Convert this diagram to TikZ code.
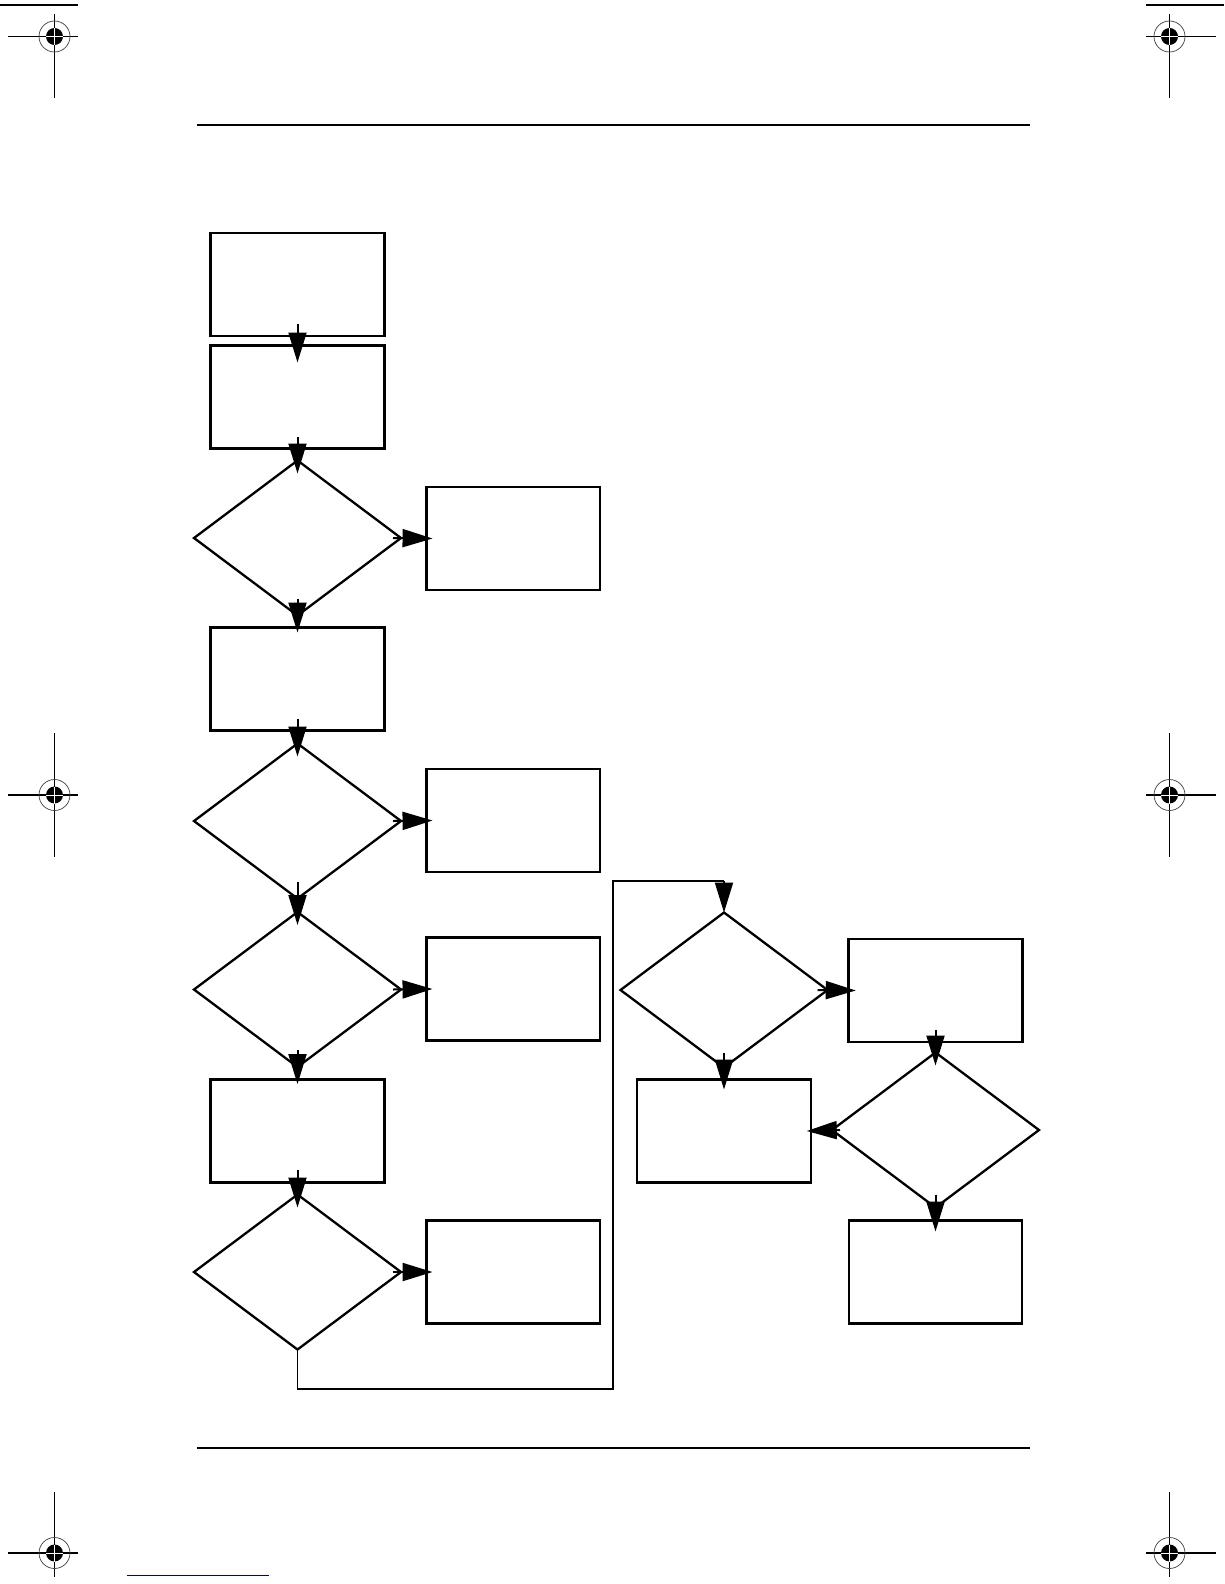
\documentclass[tikz,border=0pt]{standalone}
\usetikzlibrary{shapes.geometric,arrows.meta}
\begin{document}
\begin{tikzpicture}[x=1pt,y=-1pt,
  box/.style={draw,line width=2.8pt,minimum width=173.5pt,minimum height=103pt,inner sep=0pt,outer sep=0pt},
  thinbox/.style={box,line width=2.2pt},
  dia/.style={draw,shape=diamond,line width=2.3pt,minimum width=207pt,minimum height=155pt,inner sep=0pt,outer sep=0pt},
  arr/.style={line width=2pt,-{Triangle[length=30pt,width=18pt]}},
  link/.style={line width=1.8pt},
  rulel/.style={line width=1.3pt},
  markl/.style={line width=1.2pt},
  ]
\useasboundingbox (0,0) rectangle (1224,1584);
% registration marks
\foreach \cx/\hl/\hr in {54.5/8/78,1169.5/1146/1216}{
  \foreach \cy/\vt/\vb in {36.5/14/98,795/733/857,1553/1492/1577}{
    \draw[markl] (\hl,\cy) -- (\hr,\cy) (\cx,\vt) -- (\cx,\vb);
    \draw[line width=0.7pt,black!75] (\cx,\cy) circle (15.5pt);
    \fill (\cx,\cy) circle (8.5pt);
    \draw[white,line width=0.9pt] (\cx-8.5,\cy) -- (\cx+8.5,\cy) (\cx,\cy-8.5) -- (\cx,\cy+8.5);
  }
}
\draw[markl] (0,5) -- (78,5) (1146,5) -- (1224,5);
% header and footer rules
\draw[rulel] (197,125) -- (1030,125);
\draw[rulel] (197,1448) -- (1030,1448);
\draw[line width=1pt,blue!60!black] (127,1575) -- (269,1575);

% left column
\node[box] (b1) at (297.5,284.5) {};
\node[box] (b2) at (297.5,397) {};
\node[dia] (d1) at (297.5,538) {};
\node[box] (r1) at (513.3,538.5) {};
\node[box] (b3) at (297.5,679) {};
\node[dia] (d2) at (297.5,821) {};
\node[box] (r2) at (513.3,820.5) {};
\node[dia] (d3) at (297.5,989.5) {};
\node[box] (r3) at (513.3,989) {};
\node[box] (b4) at (297.5,1130.6) {};
\node[dia] (d4) at (297.5,1272) {};
\node[box] (r4) at (513.3,1272) {};
% right part
\node[dia] (d5) at (724,990) {};
\node[box] (r5) at (935.5,990.5) {};
\node[thinbox] (l5) at (724,1131) {};
\node[dia] (d6) at (935.5,1130) {};
\node[thinbox] (r6) at (935.5,1272) {};

% connectors
\draw[arr] ([yshift=12pt]b1.south) -- ([yshift=-17pt]b2.north);
\draw[arr] ([yshift=12pt]b2.south) -- ([yshift=-13pt]d1.north);
\draw[arr] ([xshift=-8pt]d1.east) -- ([xshift=6pt]r1.west);
\draw[arr] ([yshift=17pt]d1.south) -- ([yshift=-5pt]b3.north);
\draw[arr] ([yshift=12pt]b3.south) -- ([yshift=-13pt]d2.north);
\draw[arr] ([xshift=-8pt]d2.east) -- ([xshift=6pt]r2.west);
\draw[arr] ([yshift=17pt]d2.south) -- ([yshift=-13pt]d3.north);
\draw[arr] ([xshift=-8pt]d3.east) -- ([xshift=6pt]r3.west);
\draw[arr] ([yshift=17pt]d3.south) -- ([yshift=-5pt]b4.north);
\draw[arr] ([yshift=12pt]b4.south) -- ([yshift=-13pt]d4.north);
\draw[arr] ([xshift=-8pt]d4.east) -- ([xshift=6pt]r4.west);
\coordinate (c1) at (613,1389);
\coordinate (c2) at (613,880.7);
\draw[link] (d4.south) -- (d4.south |- c1) -- (c1) -- (c2) -- (c2 -| d5.north);
\draw[arr] (c2 -| d5.north) -- (d5.north);
\draw[arr] ([xshift=-10pt]d5.east) -- ([xshift=7pt]r5.west);
\draw[arr] ([yshift=15pt]d5.south) -- ([yshift=-10pt]l5.north);
\draw[arr] ([yshift=12pt]r5.south) -- ([yshift=-13pt]d6.north);
\draw[arr] ([xshift=8pt]d6.west) -- ([xshift=-4pt]l5.east);
\draw[arr] ([yshift=13pt]d6.south) -- ([yshift=-11pt]r6.north);
\end{tikzpicture}
\end{document}
